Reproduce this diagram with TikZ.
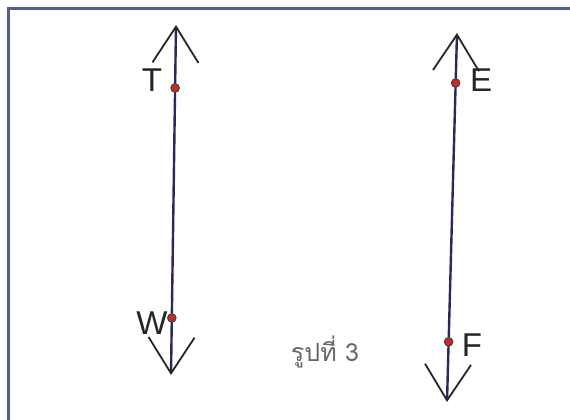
\documentclass[tikz,border=0pt]{standalone}
\usepackage{fontspec}
\setmainfont{Liberation Sans}
\newfontfamily\thaifont[Script=Thai]{Loma}
\usepackage{xcolor}
\definecolor{frameBlue}{RGB}{80, 96, 150}
\definecolor{lineNavy}{RGB}{40, 42, 92}
\definecolor{dotRed}{RGB}{205, 40, 40}
\usepackage{tikz}
\usetikzlibrary{arrows.meta}

\begin{document}
\begin{tikzpicture}[
    x=1pt, y=-1pt,
    vecLine/.style={
        draw=lineNavy, line width=2.4pt,
        {Straight Barb[length=36pt, width=46pt, line width=1.8pt, color=black!85]}-{Straight Barb[length=36pt, width=46pt, line width=1.8pt, color=black!85]}
    },
    ptDot/.style={
        circle, fill=dotRed, draw=black!75, line width=1pt,
        inner sep=0pt, minimum size=8.5pt
    },
    ptLabel/.style={
        font=\fontsize{33}{33}\selectfont, text=black!85, inner sep=1pt
    },
    capLabel/.style={
        font=\thaifont\fontsize{25}{25}\selectfont, text=black!60
    }
]
    \useasboundingbox (0,0) rectangle (570,420);

    % frame
    \draw[frameBlue, line width=3pt] (8.5,420) -- (8.5,8.5) -- (570,8.5);

    % left vector
    \coordinate (ltop) at (176,25);
    \coordinate (lbot) at (171,375);
    \draw[vecLine] (ltop) -- coordinate[pos=0.18] (T) coordinate[pos=0.837] (W) (lbot);

    % right vector
    \coordinate (rtop) at (457,33);
    \coordinate (rbot) at (447,402);
    \draw[vecLine] (rtop) -- coordinate[pos=0.1355] (E) coordinate[pos=0.837] (F) (rbot);

    % points
    \node[ptDot] (dT) at (T) {};
    \node[ptDot] (dW) at (W) {};
    \node[ptDot] (dE) at (E) {};
    \node[ptDot] (dF) at (F) {};

    % labels
    \node[ptLabel] (lT) at (152,80) {T};
    \node[ptLabel] (lW) at (152,323) {W};
    \node[ptLabel] (lE) at (481,80) {E};
    \node[ptLabel] (lF) at (472,345) {F};

    \node[capLabel] (cap) at (325,352) {รูปที่ 3};

\end{tikzpicture}
\end{document}
